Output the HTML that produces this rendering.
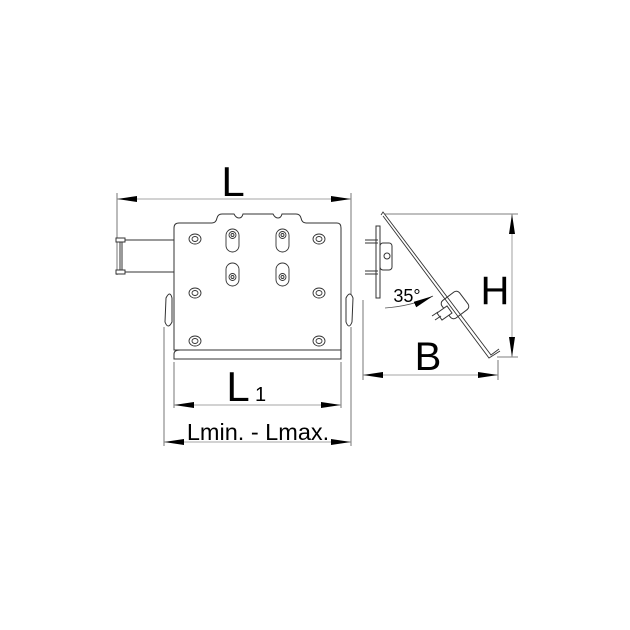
<!DOCTYPE html>
<html><head><style>html,body{margin:0;padding:0;background:#fff;}svg{display:block;}</style></head>
<body>
<svg width="630" height="630" viewBox="0 0 630 630" xmlns="http://www.w3.org/2000/svg">
<rect width="630" height="630" fill="#fff"/>
<defs>
<marker id="a" viewBox="0 0 20 6" refX="20" refY="3" markerWidth="20" markerHeight="6" orient="auto-start-reverse" markerUnits="userSpaceOnUse"><path d="M0,0 L20,3 L0,6 Z" fill="#000"/></marker>
</defs>
<g stroke="#555" stroke-width="0.8" fill="none">
<line x1="117" y1="193" x2="117" y2="275"/>
<line x1="351" y1="193" x2="351" y2="300"/>
<line x1="117" y1="199" x2="351" y2="199" stroke="#888" marker-start="url(#a)" marker-end="url(#a)"/>
<line x1="174" y1="362" x2="174" y2="408"/>
<line x1="341" y1="362" x2="341" y2="408"/>
<line x1="174" y1="405" x2="341" y2="405" stroke="#888" marker-start="url(#a)" marker-end="url(#a)"/>
<line x1="164" y1="327" x2="164" y2="446"/>
<line x1="351" y1="327" x2="351" y2="446"/>
<line x1="164" y1="442" x2="351" y2="442" stroke="#888" marker-start="url(#a)" marker-end="url(#a)"/>
</g>
<g stroke="#333" stroke-width="1" fill="#fff">
<line x1="120" y1="240" x2="174" y2="240"/>
<line x1="120" y1="272" x2="174" y2="272"/>
<rect x="116" y="238" width="9" height="4"/>
<rect x="116" y="270" width="9" height="4"/>
<line x1="120" y1="242" x2="120" y2="270"/>
<line x1="122" y1="242" x2="122" y2="270"/>
<path d="M174,228 Q174,223 179,223 L212,223 Q216,223 217,218 Q218,214 222,214 L234,214 Q236,218 239,218 Q242,218 243,214 L273,214 Q275,218 278,218 Q281,218 282,214 L296,214 Q300,214 301,218 Q302,223 306,223 L337,223 Q341,223 341,228 L341,350 L174,350 Z"/>
<path d="M174,359 L174,354 Q174,350 180,350 L341,350 L341,359 Z"/>
<path d="M166,298 Q170,290 172,298 L172,322 Q168,330 165,322 Z"/>
<path d="M346,298 Q350,290 353,298 L352,322 Q349,330 346,322 Z"/>
</g>
<g stroke="#333" stroke-width="0.9" fill="none">
<ellipse cx="195" cy="239" rx="6" ry="5"/><ellipse cx="195" cy="239" rx="3" ry="2.5"/>
<ellipse cx="319" cy="239" rx="6" ry="5"/><ellipse cx="319" cy="239" rx="3" ry="2.5"/>
<ellipse cx="195" cy="293" rx="6" ry="5"/><ellipse cx="195" cy="293" rx="3" ry="2.5"/>
<ellipse cx="319" cy="293" rx="6" ry="5"/><ellipse cx="319" cy="293" rx="3" ry="2.5"/>
<ellipse cx="195" cy="341" rx="6" ry="5"/><ellipse cx="195" cy="341" rx="3" ry="2.5"/>
<ellipse cx="319" cy="341" rx="6" ry="5"/><ellipse cx="319" cy="341" rx="3" ry="2.5"/>
<rect x="226" y="229" width="13" height="23" rx="6.5"/><circle cx="232.5" cy="235" r="3.5"/><circle cx="232.5" cy="235" r="1.5"/>
<rect x="276" y="229" width="13" height="23" rx="6.5"/><circle cx="282.5" cy="235" r="3.5"/><circle cx="282.5" cy="235" r="1.5"/>
<rect x="226" y="263" width="13" height="23" rx="6.5"/><circle cx="232.5" cy="277" r="3.5"/><circle cx="232.5" cy="277" r="1.5"/>
<rect x="276" y="263" width="13" height="23" rx="6.5"/><circle cx="282.5" cy="277" r="3.5"/><circle cx="282.5" cy="277" r="1.5"/>
</g>
<g stroke="#555" stroke-width="0.8" fill="none">
<line x1="385" y1="214" x2="518" y2="214"/>
<line x1="497" y1="357" x2="518" y2="357"/>
<line x1="512" y1="214" x2="512" y2="357" stroke="#888" marker-start="url(#a)" marker-end="url(#a)"/>
<line x1="363" y1="300" x2="363" y2="380"/>
<line x1="498" y1="360" x2="498" y2="380"/>
<line x1="363" y1="375" x2="498" y2="375" stroke="#888" marker-start="url(#a)" marker-end="url(#a)"/>
<path d="M385,308 Q412,306 433,296" stroke="#555" marker-end="url(#a)"/>
</g>
<g stroke="#333" stroke-width="1" fill="#fff">
<rect x="376" y="226" width="4" height="72"/>
<line x1="365" y1="240" x2="378" y2="240"/><line x1="365" y1="243" x2="378" y2="243"/>
<line x1="365" y1="271" x2="378" y2="271"/><line x1="365" y1="274" x2="378" y2="274"/>
<rect x="380" y="243" width="12" height="27" rx="3"/><circle cx="387" cy="256" r="3"/>
<g transform="translate(455,305) rotate(-37)"><rect x="-11" y="-11" width="22" height="22" rx="4"/></g>
<path d="M437,313 L447,306 L452,313 L442,320 Z"/>
<line x1="441" y1="316" x2="435" y2="320"/>
<line x1="438" y1="312" x2="432" y2="316"/>
</g>
<g stroke="#333" stroke-width="0.9" fill="none">
<path d="M381,215 L383,212 L491,355 L499,349"/>
<path d="M383,216 L489,358 L500,351"/>
</g>
<g font-family="Liberation Sans, sans-serif" fill="#000">
<text x="233" y="196" font-size="42" text-anchor="middle">L</text>
<text x="238" y="401" font-size="42" text-anchor="middle">L</text>
<text x="255" y="401" font-size="20">1</text>
<text x="258" y="440" font-size="23.5" text-anchor="middle">Lmin. - Lmax.</text>
<text x="495" y="304" font-size="40" text-anchor="middle">H</text>
<text x="428" y="370" font-size="40" text-anchor="middle">B</text>
<text x="407" y="302" font-size="18" text-anchor="middle">35°</text>
</g>
</svg>
</body></html>
